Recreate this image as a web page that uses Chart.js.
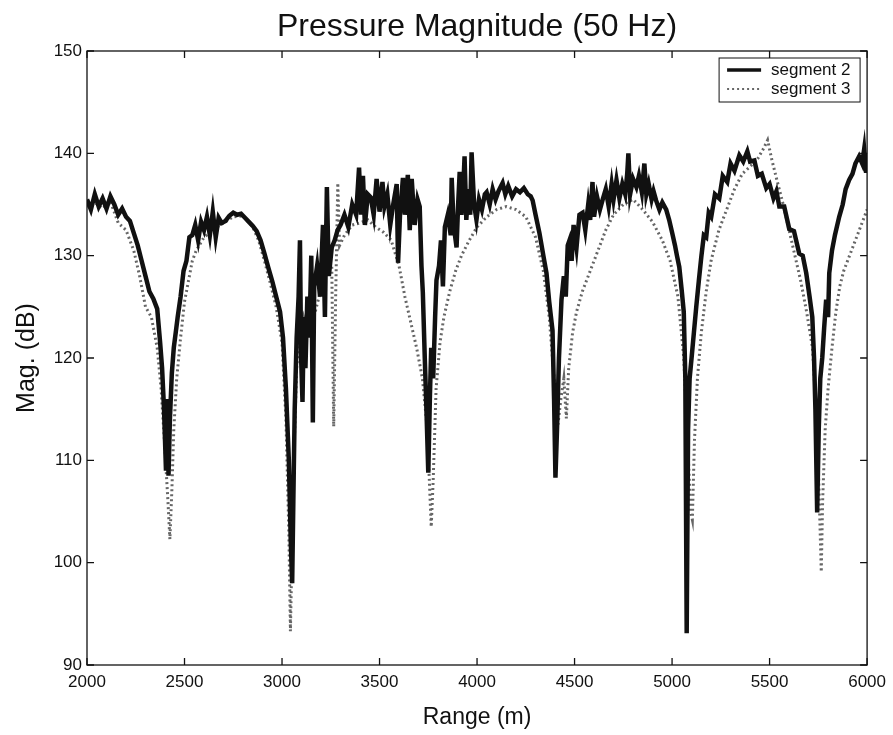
<!DOCTYPE html>
<html>
<head>
<meta charset="utf-8">
<script src="https://cdn.jsdelivr.net/npm/chart.js@4/dist/chart.umd.min.js"></script>
<style>
  html, body { margin: 0; padding: 0; background: #fff; }
  #wrap { width: 893px; height: 735px; }
</style>
</head>
<body>
<div id="wrap"><canvas id="pressureChart" width="893" height="735"></canvas></div>
<script>
// range (m) / magnitude (dB)
const seg2Range = [2000,2020,2040,2060,2080,2100,2120,2140,2160,2180,2200,2220,2240,2260,2280,2300,2320,2340,2360,2375,2385,2395,2405,2412,2418,2425,2435,2445,2455,2465,2480,2495,2510,2525,2540,2555,2570,2585,2600,2615,2630,2645,2660,2675,2690,2710,2730,2750,2770,2790,2810,2830,2850,2870,2890,2910,2930,2950,2970,2990,3005,3020,3035,3045,3052,3058,3065,3075,3085,3092,3098,3105,3112,3120,3130,3140,3150,3158,3165,3180,3195,3210,3220,3230,3240,3255,3270,3285,3300,3320,3340,3360,3380,3395,3405,3415,3425,3440,3455,3470,3485,3500,3515,3525,3540,3555,3570,3588,3595,3605,3620,3630,3645,3655,3665,3680,3695,3706,3715,3722,3732,3742,3750,3758,3765,3775,3785,3792,3805,3815,3825,3835,3850,3865,3870,3880,3895,3903,3911,3920,3928,3936,3945,3955,3965,3972,3985,3997,4010,4025,4040,4049,4065,4080,4095,4110,4131,4145,4160,4180,4200,4220,4240,4260,4275,4285,4300,4320,4340,4356,4370,4387,4395,4402,4410,4420,4433,4445,4455,4465,4474,4485,4495,4510,4525,4541,4555,4570,4580,4592,4600,4615,4630,4643,4660,4675,4690,4700,4715,4730,4745,4760,4770,4776,4785,4800,4817,4830,4845,4858,4868,4880,4895,4905,4918,4935,4950,4970,4985,5001,5015,5025,5037,5050,5060,5068,5075,5082,5090,5100,5112,5124,5137,5150,5163,5175,5188,5201,5220,5242,5260,5283,5300,5320,5345,5365,5386,5400,5422,5440,5460,5483,5500,5520,5535,5550,5575,5601,5625,5652,5670,5688,5705,5719,5728,5735,5744,5752,5760,5770,5780,5790,5800,5806,5820,5835,5857,5875,5890,5908,5925,5940,5959,5975,5985,5995,6000];
const seg2Mag = [135.5,134.5,136,134.8,135.6,134.6,135.8,135,134,134.6,133.8,133.4,132.2,131,129.5,128,126.5,125.8,124.8,121.5,119,115,109,116,108.5,114,118.5,121,122.5,124,126,128.5,129.5,131.8,132,133,131.5,133.3,132.5,133.8,132,134.3,131.8,133.7,133.2,133.4,133.9,134.2,134,134.1,133.7,133.3,132.9,132.4,131.5,130.2,128.8,127.5,126,124.5,122,117,110,102,98,106,115,122,126,131.5,120,115.7,124,119,126,122,130,113.7,127,129,126,133,124,136.7,128,130.8,131.5,132.5,133,134,132.8,135,134,138.6,134,137.8,133,136,135.7,134,137.5,134.3,137.2,134.8,136,133,135,137,129.3,134,137.6,134,137.9,132.5,137.5,133,135.5,134.8,129,126.4,120,114,108.8,116,121,118,124,127.6,129,131.5,127,132.8,134,132,137.6,133,130.8,135,138.2,134,136,139.7,133.5,136.5,134,140.1,135,133.5,135.5,134.5,136,136.2,135,136.5,135.5,136.3,137.1,136,136.8,135.8,136.5,136.2,136.6,136,135.8,135.4,134,132.2,130,128.3,125.5,122.7,116,108.3,113,120,125.7,128,126,131,131.5,129.5,133,130.8,134,134.2,132.5,135,133.5,137.2,133.8,135.8,134.5,135.4,136.5,134.8,137,135.5,137.4,135.6,137,136,138,140,136,137.5,136.7,137.8,136.2,139,136,137,135.5,136.3,135.4,134.5,135.2,134.5,133.5,132.2,131,130,128.9,126.5,124.5,118,93.1,113,118,120,122.5,125,127.5,129.9,132,131.8,134.2,133.8,136,135.6,137.8,137.2,139,138.3,139.8,139.2,140.2,139.2,139.3,137.8,138,136.6,137,135.6,136.3,134.8,134.8,132.6,132.4,130.2,130,128.3,126,124,120,115,104.9,113,118,120,123,125.7,124,128.3,130.5,132,133.8,135,136.5,137.4,138,139,139.7,139,140.4,138.1,140];

const seg3Range = [2000,2040,2080,2120,2160,2200,2240,2270,2300,2330,2360,2380,2400,2415,2425,2435,2445,2460,2480,2500,2520,2540,2560,2600,2650,2700,2750,2800,2850,2880,2910,2940,2970,3000,3020,3035,3043,3050,3060,3075,3090,3110,3130,3150,3170,3190,3210,3230,3255,3265,3275,3286,3295,3320,3360,3400,3440,3480,3520,3560,3600,3630,3660,3690,3720,3745,3765,3775,3790,3810,3830,3860,3890,3920,3960,4000,4050,4100,4150,4200,4250,4300,4340,4370,4395,4415,4430,4445,4458,4470,4490,4510,4540,4580,4620,4660,4700,4750,4800,4850,4900,4950,4990,5030,5060,5080,5095,5104,5115,5130,5150,5175,5200,5240,5280,5320,5360,5400,5440,5470,5490,5510,5540,5570,5600,5630,5660,5690,5720,5745,5758,5765,5772,5785,5800,5820,5840,5860,5880,5900,5930,5960,5980,6000];
const seg3Mag = [134.8,135.2,134.6,135.3,133.2,132.5,130.5,128,125,124,121,117,111,106,102.3,107,113,118,122,125.5,127.5,129.5,130.5,131.8,132.6,133.2,133.8,133.9,132.8,131.5,129.5,127.3,125,121.5,114,103,93.3,100,110,119,122,124,122.5,123.5,124.5,126,127,128.5,129,113.3,126,137.1,131,132,133,133.2,133.5,132.8,132.3,131.5,129,126,123.5,121,118,113,103.5,108,117,121.5,124,126.5,128.5,130,131.5,132.8,133.8,134.5,134.8,134.5,133.8,131.8,128.5,124,118,113.5,116,118,114.1,119,122.5,124.5,126.5,128.5,130.5,132.5,134,135,135.5,134.5,133.3,131.5,129.5,126,120,112,105,104.2,112,118,122.5,126.5,129.5,132.5,134.5,136.5,138,138.7,139.5,140.5,141.3,139.5,137.2,135,132.5,130,127.5,124.5,121,113,104,99.1,106,113,117,121,124.5,127,128.5,129.5,131,132.5,133.5,134.5];

const xTicks = [2000, 2500, 3000, 3500, 4000, 4500, 5000, 5500, 6000];
const yTicks = [90, 100, 110, 120, 130, 140, 150];
const chartTitle = 'Pressure Magnitude (50 Hz)';

const FONT = 'Liberation Sans, Arial, Helvetica, sans-serif';

// matlab style frame with inward ticks on all four sides, title over the axes, legend inside
const framePlugin = {
    id: 'frame',
    afterDraw(chart) {
        const ctx = chart.ctx;
        const a = chart.chartArea;
        const xs = chart.scales.x, ys = chart.scales.y;
        const len = 7;
        ctx.save();
        ctx.strokeStyle = '#111';
        ctx.lineWidth = 1.3;
        ctx.strokeRect(a.left, a.top, a.right - a.left, a.bottom - a.top);
        ctx.beginPath();
        xTicks.forEach(v => {
            const px = xs.getPixelForValue(v);
            ctx.moveTo(px, a.bottom); ctx.lineTo(px, a.bottom - len);
            ctx.moveTo(px, a.top); ctx.lineTo(px, a.top + len);
        });
        yTicks.forEach(v => {
            const py = ys.getPixelForValue(v);
            ctx.moveTo(a.left, py); ctx.lineTo(a.left + len, py);
            ctx.moveTo(a.right, py); ctx.lineTo(a.right - len, py);
        });
        ctx.stroke();

        // title centred over the plot box
        ctx.fillStyle = '#111';
        ctx.font = '32px ' + FONT;
        ctx.textAlign = 'center';
        ctx.textBaseline = 'middle';
        ctx.fillText(chartTitle, (a.left + a.right) / 2, 27);

        // legend box, top right inside the axes
        const bx = a.right - 148, by = a.top + 7, bw = 141, bh = 44;
        ctx.fillStyle = '#fff';
        ctx.fillRect(bx, by, bw, bh);
        ctx.strokeStyle = '#111';
        ctx.lineWidth = 1;
        ctx.strokeRect(bx, by, bw, bh);
        chart.data.datasets.forEach((ds, i) => {
            const ly = by + 12 + i * 19;
            ctx.save();
            ctx.strokeStyle = ds.borderColor;
            ctx.lineWidth = i === 0 ? 3.5 : 2;
            ctx.setLineDash(ds.borderDash || []);
            ctx.beginPath();
            ctx.moveTo(bx + 8, ly);
            ctx.lineTo(bx + 42, ly);
            ctx.stroke();
            ctx.restore();
            ctx.fillStyle = '#111';
            ctx.font = '17px ' + FONT;
            ctx.textAlign = 'left';
            ctx.textBaseline = 'middle';
            ctx.fillText(ds.label, bx + 52, ly);
        });
        ctx.restore();
    }
};

const ctx = document.getElementById('pressureChart').getContext('2d');
const pressureChart = new Chart(ctx, {
    type: 'line',
    data: {
        datasets: [{
            label: 'segment 2',
            data: seg2Range.map((r, i) => ({ x: r, y: seg2Mag[i] })),
            borderColor: '#111',
            borderWidth: 4.5,
            pointRadius: 0,
            tension: 0,
            order: 1
        }, {
            label: 'segment 3',
            data: seg3Range.map((r, i) => ({ x: r, y: seg3Mag[i] })),
            borderColor: '#666',
            borderWidth: 3,
            borderDash: [2, 3],
            pointRadius: 0,
            tension: 0,
            order: 2
        }]
    },
    options: {
        responsive: false,
        animation: false,
        layout: { padding: { top: 51, right: 25, bottom: 0, left: 0 } },
        plugins: {
            legend: { display: false },
            tooltip: { enabled: false },
            title: { display: false }
        },
        scales: {
            x: {
                type: 'linear',
                min: 2000,
                max: 6000,
                grid: { display: false, drawTicks: false },
                border: { display: false },
                afterBuildTicks: scale => { scale.ticks = xTicks.map(v => ({ value: v })); },
                afterFit: scale => { scale.height = 70; },
                ticks: {
                    color: '#111',
                    padding: 7,
                    maxRotation: 0,
                    font: { family: FONT, size: 17 },
                    callback: v => String(v)
                },
                title: {
                    display: true,
                    text: 'Range (m)',
                    color: '#111',
                    font: { family: FONT, size: 23 },
                    padding: { top: 0, bottom: 4 }
                }
            },
            y: {
                type: 'linear',
                min: 90,
                max: 150,
                grid: { display: false, drawTicks: false },
                border: { display: false },
                afterBuildTicks: scale => { scale.ticks = yTicks.map(v => ({ value: v })); },
                afterFit: scale => { scale.width = 87; },
                ticks: {
                    color: '#111',
                    padding: 5,
                    font: { family: FONT, size: 17 },
                    callback: v => String(v)
                },
                title: {
                    display: true,
                    text: 'Mag. (dB)',
                    color: '#111',
                    font: { family: FONT, size: 25 },
                    padding: { top: 12, bottom: 0 }
                }
            }
        }
    },
    plugins: [framePlugin]
});
</script>
</body>
</html>
